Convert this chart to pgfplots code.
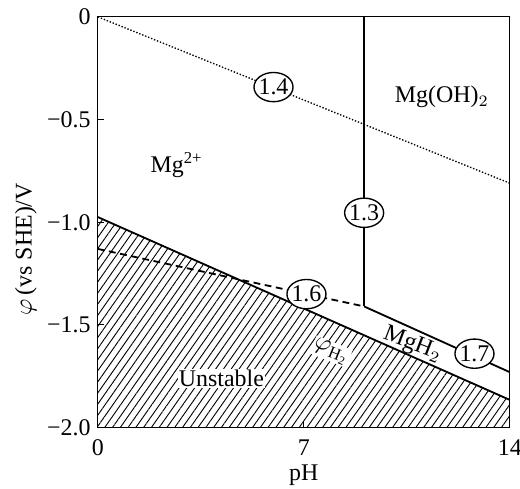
\documentclass[border=0pt]{standalone}
\usepackage{fontspec}
\setmainfont{Liberation Serif}
\usepackage{pgfplots}
\pgfplotsset{compat=1.18}
\usetikzlibrary{patterns.meta,shapes.geometric}
\begin{document}
\fontsize{10.5}{12.6}\selectfont
\begin{tikzpicture}
\begin{axis}[
  name=ax,
  width=181pt,height=180.5pt,scale only axis,
  xmin=0,xmax=14,ymin=-2,ymax=0,
  xtick={0,7,14},xticklabels={0,7,14},
  ytick={0,-0.5,-1,-1.5,-2},yticklabels={0,−0.5,−1.0,−1.5,−2.0},
  tick pos=left,tick align=inside,major tick length=2.5pt,
  tick style={black,line width=0.5pt},
  axis line style={line width=0.5pt},
  xlabel={pH},ylabel={$\varphi$\,(vs SHE)/V},
  xticklabel style={yshift=-1.5pt},
  yticklabel style={xshift=0.5pt},
  xlabel style={at={(axis description cs:0.5,0)},anchor=center,yshift=-21pt},
  ylabel style={at={(axis description cs:-0.175,0.434)},anchor=center},
  clip=false,
]
% hatched unstable region
\addplot[draw=none,pattern={Lines[angle=55,distance=2.8pt,line width=0.4pt]}]
  coordinates {(0,-0.975) (14,-1.865) (14,-2) (0,-2)} -- cycle;
% hatch boundary
\addplot[black,line width=0.8pt] coordinates {(0,-0.975) (14,-1.865)};
% dotted line 1.4
\addplot[black,line width=0.6pt,dash pattern=on 0.6pt off 0.8pt] coordinates {(0,0) (14,-0.81)};
% vertical line 1.3
\addplot[black,line width=0.8pt] coordinates {(9.05,0) (9.05,-1.41)};
% dashed line 1.6
\addplot[black,line width=0.8pt,dash pattern=on 3pt off 2pt] coordinates {(0,-1.13) (9.05,-1.41)};
% line 1.7
\addplot[black,line width=0.8pt] coordinates {(9.05,-1.41) (14,-1.73)};
% labels
\node at (axis cs:2.68,-0.72) {Mg\textsuperscript{2+}};
\node at (axis cs:11.69,-0.39) {Mg(OH)$_2$};
\node[rotate=-21] at (axis cs:10.7,-1.595) {MgH$_2$};
\node[rotate=-22,fill=white,inner sep=0.5pt] at (axis cs:7.93,-1.63) {$\varphi_{\mathrm{H_2}}$};
\node[fill=white,inner sep=0.5pt] at (axis cs:4.2,-1.76) {Unstable};
\tikzset{lab/.style={draw,ellipse,fill=white,inner xsep=-0.5pt,inner ysep=1pt,line width=0.6pt}}
\node[lab] at (axis cs:5.97,-0.342) {1.4};
\node[lab] at (axis cs:9.05,-0.954) {1.3};
\node[lab] at (axis cs:7.09,-1.35) {1.6};
\node[lab] at (axis cs:12.8,-1.64) {1.7};
\end{axis}
\pgfresetboundingbox
\path ([xshift=-43pt,yshift=-26.6pt]ax.south west) rectangle ([xshift=4.5pt,yshift=7.4pt]ax.north east);
\end{tikzpicture}
\end{document}
